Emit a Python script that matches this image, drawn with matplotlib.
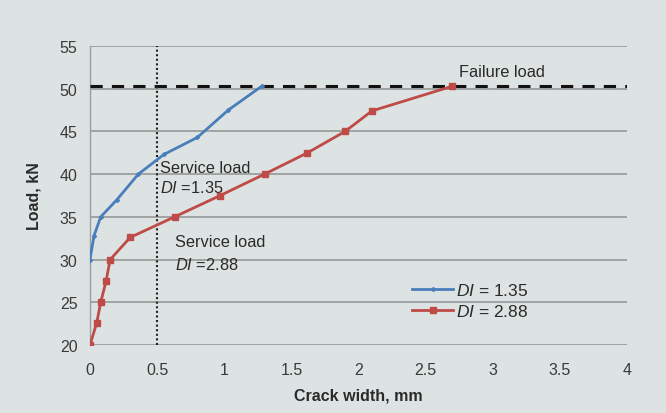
import matplotlib
matplotlib.use("Agg")
import matplotlib.pyplot as plt

# Data
crack_di135 = [0.0, 0.03, 0.08, 0.2, 0.36, 0.55, 0.8, 1.03, 1.28]
load_di135 = [30.0, 32.8, 35.0, 37.0, 40.0, 42.3, 44.3, 47.5, 50.3]

crack_di288 = [0.0, 0.05, 0.08, 0.12, 0.15, 0.3, 0.63, 0.97, 1.3, 1.62, 1.9, 2.1, 2.7]
load_di288 = [20.0, 22.6, 25.0, 27.5, 30.0, 32.6, 35.0, 37.5, 40.0, 42.5, 45.0, 47.4, 50.3]

failure_load = 50.3
service_width = 0.5

x_ticks = [0, 0.5, 1, 1.5, 2, 2.5, 3, 3.5, 4]
x_tick_labels = ["0", "0.5", "1", "1.5", "2", "2.5", "3", "3.5", "4"]
y_ticks = [20, 25, 30, 35, 40, 45, 50, 55]

plt.rcParams['font.family'] = ['Liberation Sans', 'DejaVu Sans']
plt.rcParams['mathtext.fontset'] = 'custom'
plt.rcParams['mathtext.it'] = 'Liberation Sans:italic'
plt.rcParams['mathtext.rm'] = 'Liberation Sans'

bg = '#dde3e2'
txt = '#2a2a2a'
fig = plt.figure(figsize=(6.66, 4.14), dpi=100, facecolor=bg)
ax = fig.add_axes([90/666, 1-346/414, (627-90)/666, (346-47)/414])
ax.set_facecolor(bg)

ax.set_xlim(0, 4)
ax.set_ylim(20, 55)
for y in y_ticks:
    ax.axhline(y, color='#9a9e9d', lw=1.3, zorder=1)

for s in ['top', 'right', 'bottom']:
    ax.spines[s].set_visible(False)
ax.spines['left'].set_color('#9a9e9d')
ax.spines['left'].set_linewidth(1.0)

ax.set_xticks(x_ticks)
ax.set_xticklabels(x_tick_labels)
ax.set_yticks(y_ticks)
ax.tick_params(axis='y', length=0, labelsize=11.5, colors='#3a3a3a', pad=9)
ax.tick_params(axis='x', length=0, labelsize=11.5, colors='#3a3a3a', pad=12)

ax.axhline(failure_load, color='#111111', lw=2.2, ls=(0, (4, 3)), zorder=3)
ax.axvline(service_width, color='#222222', lw=1.5, ls=(0, (1, 1.2)), zorder=3)

ax.plot(crack_di135, load_di135, color='#4a7ebb', lw=2, marker='D', ms=2,
        label=r'$\it{DI}$ = 1.35', zorder=4)
ax.plot(crack_di288, load_di288, color='#be4b48', lw=2, marker='s', ms=3.8,
        label=r'$\it{DI}$ = 2.88', zorder=4)

leg = ax.legend(loc='upper left', bbox_to_anchor=(0.583, 0.24), frameon=False,
                fontsize=12.5, handlelength=2.4, handletextpad=0.15,
                labelspacing=0.3, borderpad=0)
for t in leg.get_texts():
    t.set_color(txt)

fs = 11.8
ax.text(0.52, 40.8, 'Service load', fontsize=fs, color=txt, va='center')
ax.text(0.52, 38.5, r'$\it{DI}$ =1.35', fontsize=fs, color=txt, va='center')
ax.text(0.63, 32.1, 'Service load', fontsize=fs, color=txt, va='center')
ax.text(0.63, 29.5, r'$\it{DI}$ =2.88', fontsize=fs, color=txt, va='center')
ax.text(2.75, 52.0, 'Failure load', fontsize=fs, color=txt, va='center')

ax.set_xlabel('Crack width, mm', fontsize=11.5, fontweight='bold', color=txt, labelpad=8)
ax.set_ylabel('Load, kN', fontsize=11.5, fontweight='bold', color=txt, labelpad=13)

fig.savefig('out.png', dpi=100, facecolor=bg)
